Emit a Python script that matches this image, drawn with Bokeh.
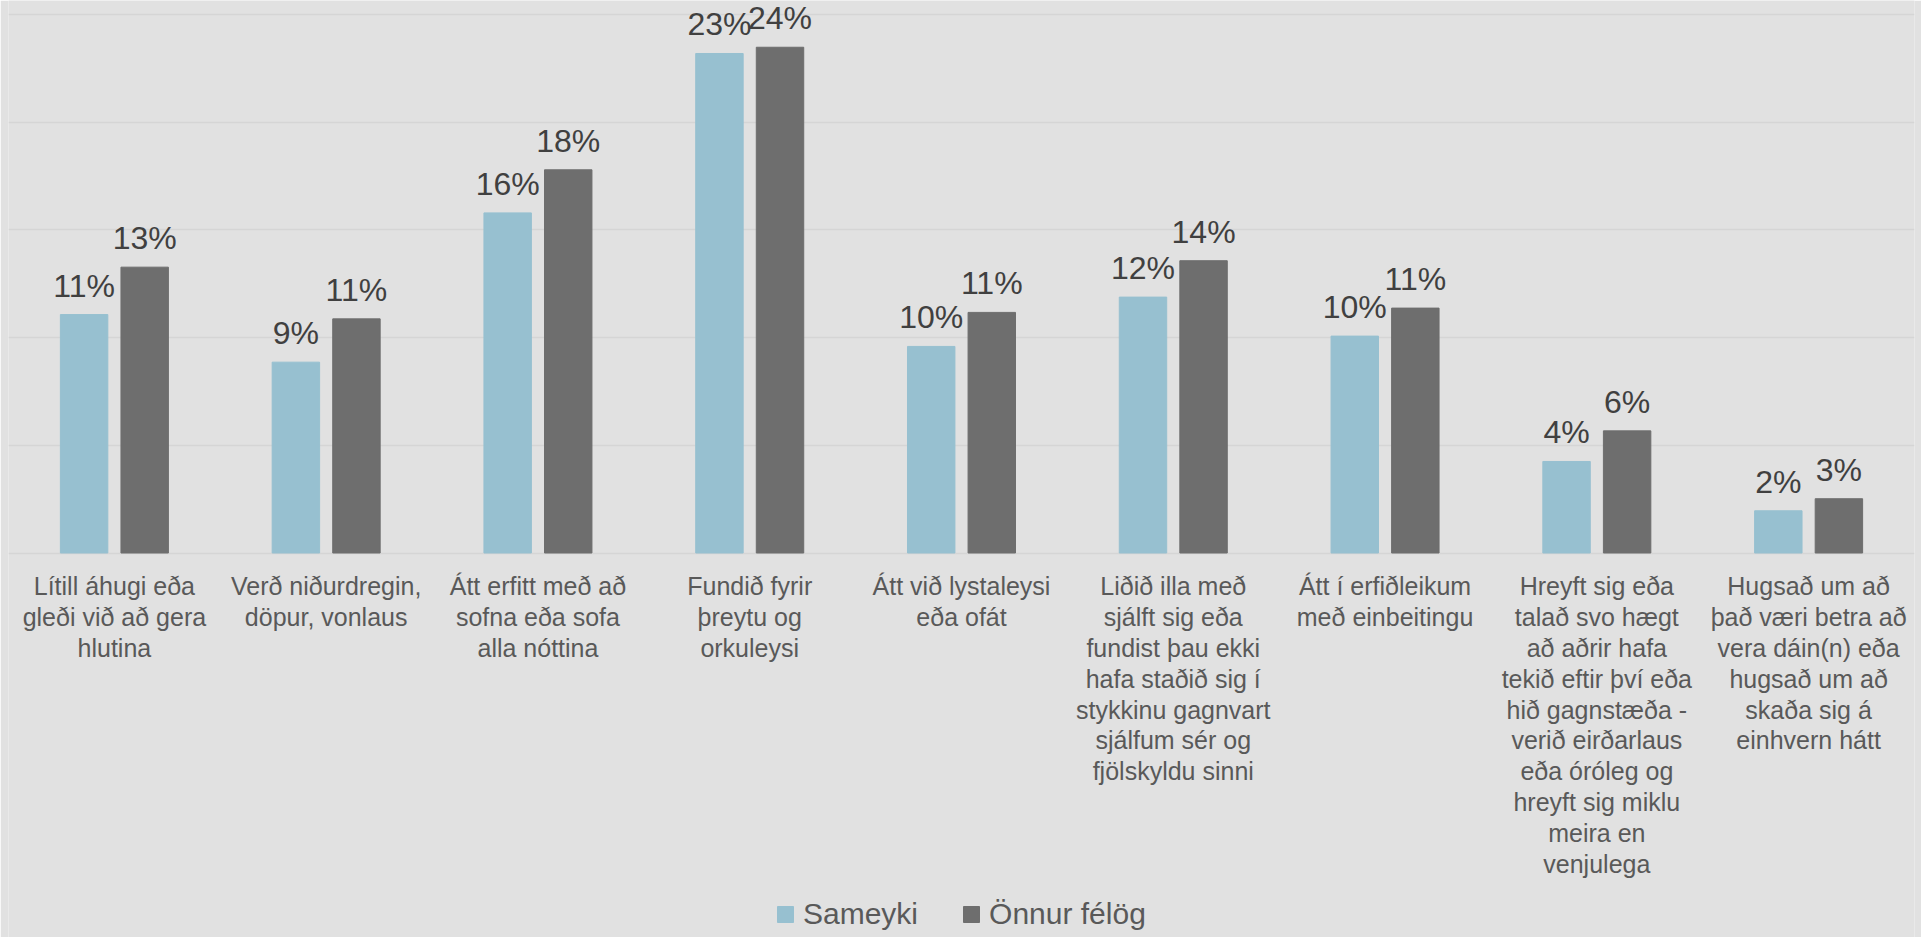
from bokeh.plotting import figure
from bokeh.models import (ColumnDataSource, FactorRange, Range1d, Grid, FixedTicker,
                          Legend, LegendItem)
from bokeh.transform import dodge
from bokeh.core.properties import value
from bokeh.embed import file_html
from bokeh.resources import INLINE

categories = [
    "Lítill áhugi eða\ngleði við að gera\nhlutina",
    "Verð niðurdregin,\ndöpur, vonlaus",
    "Átt erfitt með að\nsofna eða sofa\nalla nóttina",
    "Fundið fyrir\nþreytu og\norkuleysi",
    "Átt við lystaleysi\neða ofát",
    "Liðið illa með\nsjálft sig eða\nfundist þau ekki\nhafa staðið sig í\nstykkinu gagnvart\nsjálfum sér og\nfjölskyldu sinni",
    "Átt í erfiðleikum\nmeð einbeitingu",
    "Hreyft sig eða\ntalað svo hægt\nað aðrir hafa\ntekið eftir því eða\nhið gagnstæða -\nverið eirðarlaus\neða óróleg og\nhreyft sig miklu\nmeira en\nvenjulega",
    "Hugsað um að\nþað væri betra að\nvera dáin(n) eða\nhugsað um að\nskaða sig á\neinhvern hátt",
]
series = ["Sameyki", "Önnur félög"]
sameyki = [11.07, 8.86, 15.79, 23.19, 9.59, 11.88, 10.07, 4.25, 1.96]
onnur = [13.27, 10.87, 17.79, 23.48, 11.17, 13.57, 11.37, 5.67, 2.52]
sameyki_labels = ["11%", "9%", "16%", "23%", "10%", "12%", "10%", "4%", "2%"]
onnur_labels = ["13%", "11%", "18%", "24%", "11%", "14%", "11%", "6%", "3%"]
grid_ticks = [0, 5, 10, 15, 20, 25]

BG = "#e1e1e1"
BLUE = "#97c0d0"
GRAY = "#6e6e6e"
FONT = "Liberation Sans"

src = ColumnDataSource(dict(cat=categories, s=sameyki, o=onnur,
                            sl=sameyki_labels, ol=onnur_labels))

p = figure(width=1921, height=937, output_backend="svg", toolbar_location=None,
           x_range=FactorRange(factors=categories, range_padding=0),
           y_range=Range1d(-17.85, 25.65),
           x_axis_location=None, y_axis_location=None,
           min_border_left=8, min_border_right=7, min_border_top=0, min_border_bottom=0)
p.background_fill_color = BG
p.border_fill_color = BG
p.outline_line_color = None
p.grid.visible = False

p.add_layout(Grid(dimension=1, ticker=FixedTicker(ticks=grid_ticks),
                  grid_line_color="#d5d5d5", grid_line_width=1.5))

off = 0.143
w = 0.224
r1 = p.vbar(x=dodge("cat", -off, range=p.x_range), top="s", width=w, source=src,
            fill_color=BLUE, line_color=BLUE)
r2 = p.vbar(x=dodge("cat", off, range=p.x_range), top="o", width=w, source=src,
            fill_color=GRAY, line_color=GRAY)

p.text(x=dodge("cat", -off, range=p.x_range), y="s", text="sl", source=src,
       text_align="center", text_baseline="bottom", y_offset=-11,
       text_font=value(FONT), text_font_size="32px", text_color="#404040")
p.text(x=dodge("cat", off, range=p.x_range), y="o", text="ol", source=src,
       text_align="center", text_baseline="bottom", y_offset=-11,
       text_font=value(FONT), text_font_size="32px", text_color="#404040")

p.text(x="cat", y=-0.9, text="cat", source=src, text_align="center",
       text_baseline="top", text_line_height=1.1,
       text_font=value(FONT), text_font_size="25px", text_color="#595959")

legend = Legend(items=[LegendItem(label=series[0], renderers=[r1]),
                       LegendItem(label=series[1], renderers=[r2])],
                orientation="horizontal", location=(767, 6), padding=0, margin=0,
                spacing=43, label_standoff=8, glyph_width=20, glyph_height=20,
                label_text_font=FONT, label_text_font_size="30px",
                label_text_color="#595959", label_height=30,
                background_fill_alpha=0, border_line_alpha=0)
p.add_layout(legend)

open("out.html", "w").write(file_html(p, INLINE))
